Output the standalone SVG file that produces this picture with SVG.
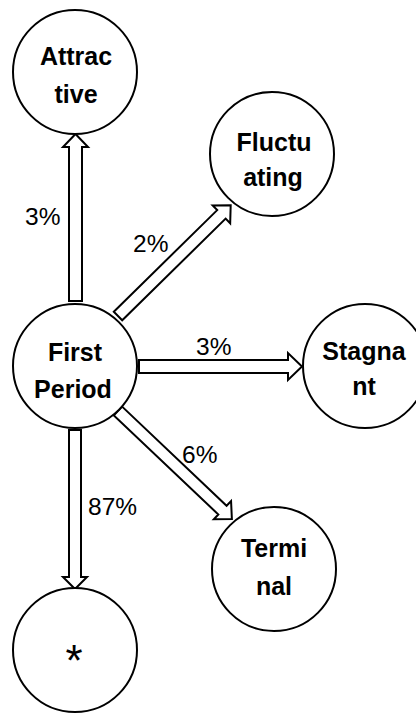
<svg xmlns="http://www.w3.org/2000/svg" width="416" height="713" viewBox="0 0 416 713">
  <style>
    .node circle { fill: #fff; stroke: #000; stroke-width: 2; }
    .node text { font-family: "Liberation Sans", Arial, sans-serif; font-weight: bold; font-size: 25px; text-anchor: middle; fill: #000; }
    .arrow { fill: #fff; stroke: #000; stroke-width: 2; stroke-linejoin: miter; }
    .pct { font-family: "Liberation Sans", Arial, sans-serif; font-size: 24.5px; fill: #000; }
  </style>
  <rect width="416" height="713" fill="#fff"/>

  <!-- block arrows -->
  <g id="connectors">
    <!-- up to Attractive -->
    <polygon class="arrow" points="69,301 69,147 63,147 75.5,134 88,147 82,147 82,301"/>
    <!-- down to * -->
    <polygon class="arrow" points="69,430 81,430 81,577 87,577 75,589 63,577 69,577"/>
    <!-- right to Stagnant -->
    <polygon class="arrow" points="139,360 288,360 288,353 302,366.5 288,380 288,373 139,373"/>
    <!-- up-right to Fluctuating -->
    <polygon class="arrow" transform="translate(118,316) rotate(-44.5)" points="0,-6 145,-6 145,-12.5 158,0 145,12.5 145,6 0,6"/>
    <!-- down-right to Terminal -->
    <polygon class="arrow" transform="translate(118,411) rotate(43.5)" points="0,-6 144,-6 144,-12.5 157,0 144,12.5 144,6 0,6"/>
    <text class="pct" x="25" y="225">3%</text>
    <text class="pct" x="133" y="252">2%</text>
    <text class="pct" x="196" y="355">3%</text>
    <text class="pct" x="182" y="463">6%</text>
    <text class="pct" x="88" y="515">87%</text>
  </g>

  <g id="attractive" class="node">
    <circle cx="75" cy="72" r="62"/>
    <text x="76" y="65">Attrac</text>
    <text x="76" y="103">tive</text>
  </g>

  <g id="first-period" class="node">
    <circle cx="75" cy="366" r="62"/>
    <text x="75" y="361">First</text>
    <text x="73" y="398">Period</text>
  </g>

  <g id="fluctuating" class="node">
    <circle cx="272" cy="154" r="62"/>
    <text x="274" y="151">Fluctu</text>
    <text x="273" y="186">ating</text>
  </g>

  <g id="stagnant" class="node">
    <circle cx="365" cy="366" r="62"/>
    <text x="364" y="360">Stagna</text>
    <text x="364" y="395">nt</text>
  </g>

  <g id="terminal" class="node">
    <circle cx="274" cy="569" r="62"/>
    <text x="274" y="557">Termi</text>
    <text x="274" y="595">nal</text>
  </g>

  <g id="unknown" class="node">
    <circle cx="75" cy="650" r="62"/>
    <text x="74" y="676" style="font-weight:normal;font-size:44px">*</text>
  </g>
</svg>
